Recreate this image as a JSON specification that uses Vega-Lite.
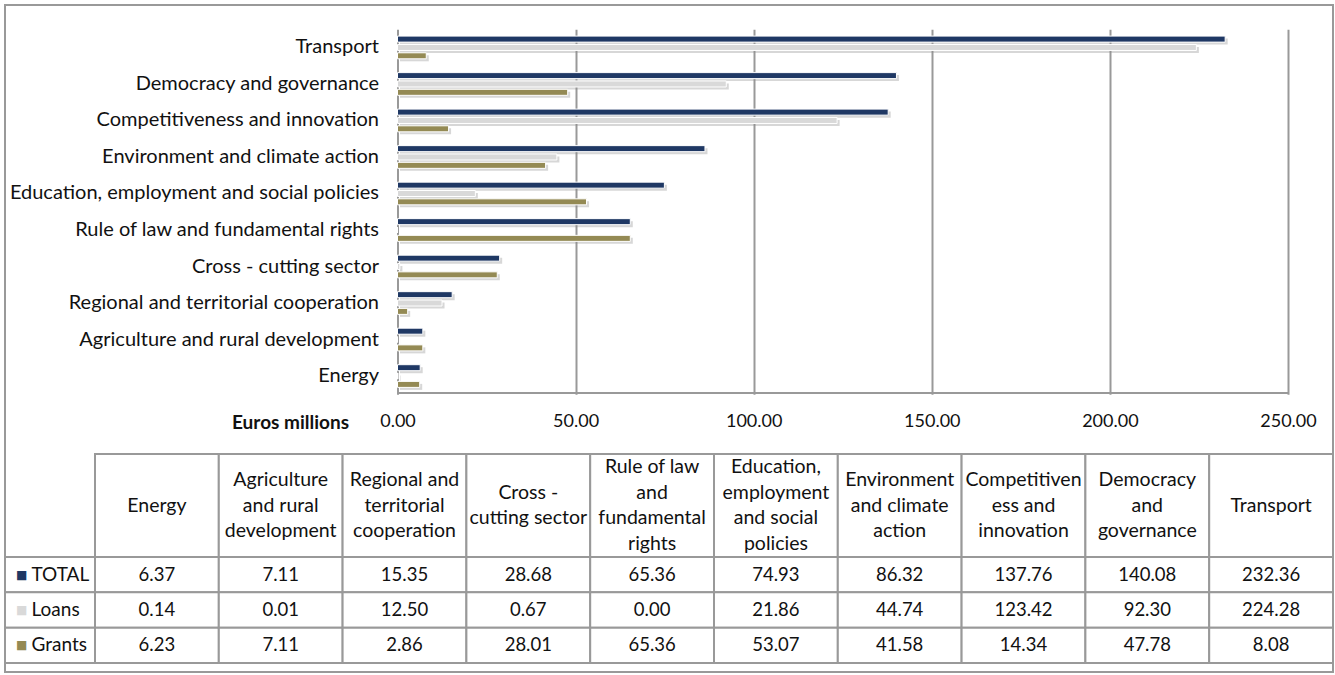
{
  "$schema": "https://vega.github.io/schema/vega-lite/v6.json",
  "width": 1328,
  "height": 667,
  "autosize": {"type": "none"},
  "padding": {"left": 5, "top": 5, "right": 2, "bottom": 3},
  "config": {
    "view": {"stroke": "#999999", "strokeWidth": 2},
    "font": "Lato",
    "text": {"font": "Lato", "color": "#111111"}
  },
  "datasets": {
    "main": [
      {"cat": "Energy", "series": "TOTAL", "value": 6.37},
      {"cat": "Energy", "series": "Loans", "value": 0.14},
      {"cat": "Energy", "series": "Grants", "value": 6.23},
      {"cat": "Agriculture and rural development", "series": "TOTAL", "value": 7.11},
      {"cat": "Agriculture and rural development", "series": "Loans", "value": 0.01},
      {"cat": "Agriculture and rural development", "series": "Grants", "value": 7.11},
      {"cat": "Regional and territorial cooperation", "series": "TOTAL", "value": 15.35},
      {"cat": "Regional and territorial cooperation", "series": "Loans", "value": 12.50},
      {"cat": "Regional and territorial cooperation", "series": "Grants", "value": 2.86},
      {"cat": "Cross - cutting sector", "series": "TOTAL", "value": 28.68},
      {"cat": "Cross - cutting sector", "series": "Loans", "value": 0.67},
      {"cat": "Cross - cutting sector", "series": "Grants", "value": 28.01},
      {"cat": "Rule of law and fundamental rights", "series": "TOTAL", "value": 65.36},
      {"cat": "Rule of law and fundamental rights", "series": "Loans", "value": 0.00},
      {"cat": "Rule of law and fundamental rights", "series": "Grants", "value": 65.36},
      {"cat": "Education, employment and social policies", "series": "TOTAL", "value": 74.93},
      {"cat": "Education, employment and social policies", "series": "Loans", "value": 21.86},
      {"cat": "Education, employment and social policies", "series": "Grants", "value": 53.07},
      {"cat": "Environment and climate action", "series": "TOTAL", "value": 86.32},
      {"cat": "Environment and climate action", "series": "Loans", "value": 44.74},
      {"cat": "Environment and climate action", "series": "Grants", "value": 41.58},
      {"cat": "Competitiveness and innovation", "series": "TOTAL", "value": 137.76},
      {"cat": "Competitiveness and innovation", "series": "Loans", "value": 123.42},
      {"cat": "Competitiveness and innovation", "series": "Grants", "value": 14.34},
      {"cat": "Democracy and governance", "series": "TOTAL", "value": 140.08},
      {"cat": "Democracy and governance", "series": "Loans", "value": 92.30},
      {"cat": "Democracy and governance", "series": "Grants", "value": 47.78},
      {"cat": "Transport", "series": "TOTAL", "value": 232.36},
      {"cat": "Transport", "series": "Loans", "value": 224.28},
      {"cat": "Transport", "series": "Grants", "value": 8.08}
    ],
    "headers": [
      {"cat": "Energy", "row": "header", "header": "Energy"},
      {"cat": "Agriculture and rural development", "row": "header", "header": "Agriculture\nand rural\ndevelopment"},
      {"cat": "Regional and territorial cooperation", "row": "header", "header": "Regional and\nterritorial\ncooperation"},
      {"cat": "Cross - cutting sector", "row": "header", "header": "Cross -\ncutting sector"},
      {"cat": "Rule of law and fundamental rights", "row": "header", "header": "Rule of law\nand\nfundamental\nrights"},
      {"cat": "Education, employment and social policies", "row": "header", "header": "Education,\nemployment\nand social\npolicies"},
      {"cat": "Environment and climate action", "row": "header", "header": "Environment\nand climate\naction"},
      {"cat": "Competitiveness and innovation", "row": "header", "header": "Competitiven\ness and\ninnovation"},
      {"cat": "Democracy and governance", "row": "header", "header": "Democracy\nand\ngovernance"},
      {"cat": "Transport", "row": "header", "header": "Transport"}
    ],
    "series": [
      {"series": "TOTAL", "col": "label"},
      {"series": "Loans", "col": "label"},
      {"series": "Grants", "col": "label"}
    ]
  },
  "resolve": {"scale": {"x": "independent", "y": "independent"}},
  "layer": [
    {
      "data": {"name": "main"},
      "mark": {"type": "bar", "opacity": 0},
      "encoding": {
        "y": {
          "field": "cat", "type": "nominal", "axis": null,
          "scale": {
            "domain": ["Transport", "Democracy and governance", "Competitiveness and innovation", "Environment and climate action", "Education, employment and social policies", "Rule of law and fundamental rights", "Cross - cutting sector", "Regional and territorial cooperation", "Agriculture and rural development", "Energy"],
            "range": [24.2, 389.3], "paddingInner": 0.378, "paddingOuter": 0.189
          }
        },
        "x": {
          "field": "value", "type": "quantitative",
          "scale": {"domain": [0, 250], "range": [392.5, 1283], "nice": false},
          "axis": {
            "values": [50, 100, 150, 200, 250], "orient": "top", "labels": false, "ticks": false, "domain": false,
            "grid": true, "gridColor": "#999999", "gridWidth": 2, "title": null
          }
        }
      }
    },
    {
      "data": {"name": "main"},
      "mark": {"type": "bar", "color": "#8c8c8c", "opacity": 0.35},
      "encoding": {
        "y": {
          "field": "cat", "type": "nominal", "axis": null,
          "scale": {
            "domain": ["Transport", "Democracy and governance", "Competitiveness and innovation", "Environment and climate action", "Education, employment and social policies", "Rule of law and fundamental rights", "Cross - cutting sector", "Regional and territorial cooperation", "Agriculture and rural development", "Energy"],
            "range": [26.7, 391.8], "paddingInner": 0.378, "paddingOuter": 0.189
          }
        },
        "yOffset": {
          "field": "series", "type": "nominal",
          "scale": {"domain": ["TOTAL", "Loans", "Grants"], "paddingInner": 0.28, "paddingOuter": 0}
        },
        "x": {
          "field": "value", "type": "quantitative", "axis": null,
          "scale": {"domain": [0, 250], "range": [395, 1285.5], "nice": false}
        }
      }
    },
    {
      "data": {"name": "main"},
      "mark": {"type": "bar", "stroke": "#ffffff", "strokeWidth": 1},
      "encoding": {
        "y": {
          "field": "cat", "type": "nominal",
          "scale": {
            "domain": ["Transport", "Democracy and governance", "Competitiveness and innovation", "Environment and climate action", "Education, employment and social policies", "Rule of law and fundamental rights", "Cross - cutting sector", "Regional and territorial cooperation", "Agriculture and rural development", "Energy"],
            "range": [24.2, 389.3], "paddingInner": 0.378, "paddingOuter": 0.189
          },
          "axis": {
            "title": null, "orient": "left", "offset": -392.5, "ticks": false,
            "labelPadding": 19, "labelFontSize": 20, "labelFont": "Lato", "labelColor": "#111111",
            "labelLimit": 420, "domainColor": "#999999", "domainWidth": 2, "grid": false
          }
        },
        "yOffset": {
          "field": "series", "type": "nominal",
          "scale": {"domain": ["TOTAL", "Loans", "Grants"], "paddingInner": 0.28, "paddingOuter": 0}
        },
        "x": {
          "field": "value", "type": "quantitative",
          "scale": {"domain": [0, 250], "range": [392.5, 1283], "nice": false},
          "axis": {
            "values": [0, 50, 100, 150, 200, 250], "format": ".2f", "orient": "bottom", "offset": -279.5,
            "ticks": false, "labelPadding": 20, "labelFontSize": 18, "labelFont": "Lato", "labelColor": "#111111",
            "labelFlush": false, "labelOverlap": false,
            "domainColor": "#999999", "domainWidth": 2, "grid": false,
            "title": "Euros millions", "titleFont": "Lato", "titleFontWeight": "bold", "titleFontSize": 19,
            "titleColor": "#111111", "titleX": 285, "titleY": 30, "titleAlign": "center", "titleBaseline": "middle"
          }
        },
        "color": {
          "field": "series", "type": "nominal",
          "scale": {"domain": ["TOTAL", "Loans", "Grants"], "range": ["#1F3864", "#D9D9D9", "#948A54"]},
          "legend": null
        }
      }
    },
    {
      "data": {"name": "headers"},
      "encoding": {
        "x": {
          "field": "cat", "type": "nominal", "axis": null,
          "scale": {
            "domain": ["Energy", "Agriculture and rural development", "Regional and territorial cooperation", "Cross - cutting sector", "Rule of law and fundamental rights", "Education, employment and social policies", "Environment and climate action", "Competitiveness and innovation", "Democracy and governance", "Transport"],
            "range": [90, 1328], "paddingInner": 0, "paddingOuter": 0
          }
        },
        "y": {"field": "row", "type": "nominal", "axis": null, "scale": {"range": [449, 552], "paddingInner": 0, "paddingOuter": 0}},
        "text": {"field": "header", "type": "nominal"}
      },
      "layer": [
        {"mark": {"type": "rect", "fill": "#ffffff", "stroke": "#999999", "strokeWidth": 2}},
        {
          "transform": [{"filter": {"field": "cat", "oneOf": ["Energy", "Transport"]}}],
          "mark": {"type": "text", "lineBreak": "\n", "fontSize": 19.5, "lineHeight": 25.5, "font": "Lato", "color": "#111111", "baseline": "middle", "dy": 0}
        },
        {
          "transform": [{"filter": {"field": "cat", "oneOf": ["Cross - cutting sector"]}}],
          "mark": {"type": "text", "lineBreak": "\n", "fontSize": 19.5, "lineHeight": 25.5, "font": "Lato", "color": "#111111", "baseline": "middle", "dy": -12.75}
        },
        {
          "transform": [{"filter": {"field": "cat", "oneOf": ["Agriculture and rural development", "Regional and territorial cooperation", "Environment and climate action", "Competitiveness and innovation", "Democracy and governance"]}}],
          "mark": {"type": "text", "lineBreak": "\n", "fontSize": 19.5, "lineHeight": 25.5, "font": "Lato", "color": "#111111", "baseline": "middle", "dy": -25.5}
        },
        {
          "transform": [{"filter": {"field": "cat", "oneOf": ["Rule of law and fundamental rights", "Education, employment and social policies"]}}],
          "mark": {"type": "text", "lineBreak": "\n", "fontSize": 19.5, "lineHeight": 25.5, "font": "Lato", "color": "#111111", "baseline": "middle", "dy": -38.25}
        }
      ]
    },
    {
      "data": {"name": "main"},
      "encoding": {
        "x": {
          "field": "cat", "type": "nominal", "axis": null,
          "scale": {
            "domain": ["Energy", "Agriculture and rural development", "Regional and territorial cooperation", "Cross - cutting sector", "Rule of law and fundamental rights", "Education, employment and social policies", "Environment and climate action", "Competitiveness and innovation", "Democracy and governance", "Transport"],
            "range": [90, 1328], "paddingInner": 0, "paddingOuter": 0
          }
        },
        "y": {
          "field": "series", "type": "nominal", "axis": null,
          "scale": {"domain": ["TOTAL", "Loans", "Grants"], "range": [552, 658], "paddingInner": 0, "paddingOuter": 0}
        }
      },
      "layer": [
        {"mark": {"type": "rect", "fill": "#ffffff", "stroke": "#999999", "strokeWidth": 2}},
        {
          "mark": {"type": "text", "fontSize": 18.5, "font": "Lato", "color": "#111111", "baseline": "middle"},
          "encoding": {"text": {"field": "value", "type": "quantitative", "format": ".2f"}}
        }
      ]
    },
    {
      "data": {"name": "series"},
      "encoding": {
        "x": {"field": "col", "type": "nominal", "axis": null, "scale": {"range": [0, 90], "paddingInner": 0, "paddingOuter": 0}},
        "y": {
          "field": "series", "type": "nominal", "axis": null,
          "scale": {"domain": ["TOTAL", "Loans", "Grants"], "range": [552, 658], "paddingInner": 0, "paddingOuter": 0}
        }
      },
      "layer": [
        {"mark": {"type": "rect", "fill": "#ffffff", "stroke": "#999999", "strokeWidth": 2}},
        {
          "mark": {"type": "text", "text": "■", "font": "DejaVu Sans", "fontSize": 12, "align": "left", "dx": -34, "baseline": "middle"},
          "encoding": {
            "color": {"field": "series", "type": "nominal", "scale": {"domain": ["TOTAL", "Loans", "Grants"], "range": ["#1F3864", "#D9D9D9", "#948A54"]}, "legend": null}
          }
        },
        {
          "mark": {"type": "text", "fontSize": 19, "font": "Lato", "color": "#111111", "align": "left", "dx": -18.5, "baseline": "middle"},
          "encoding": {"text": {"field": "series", "type": "nominal"}}
        }
      ]
    }
  ]
}
